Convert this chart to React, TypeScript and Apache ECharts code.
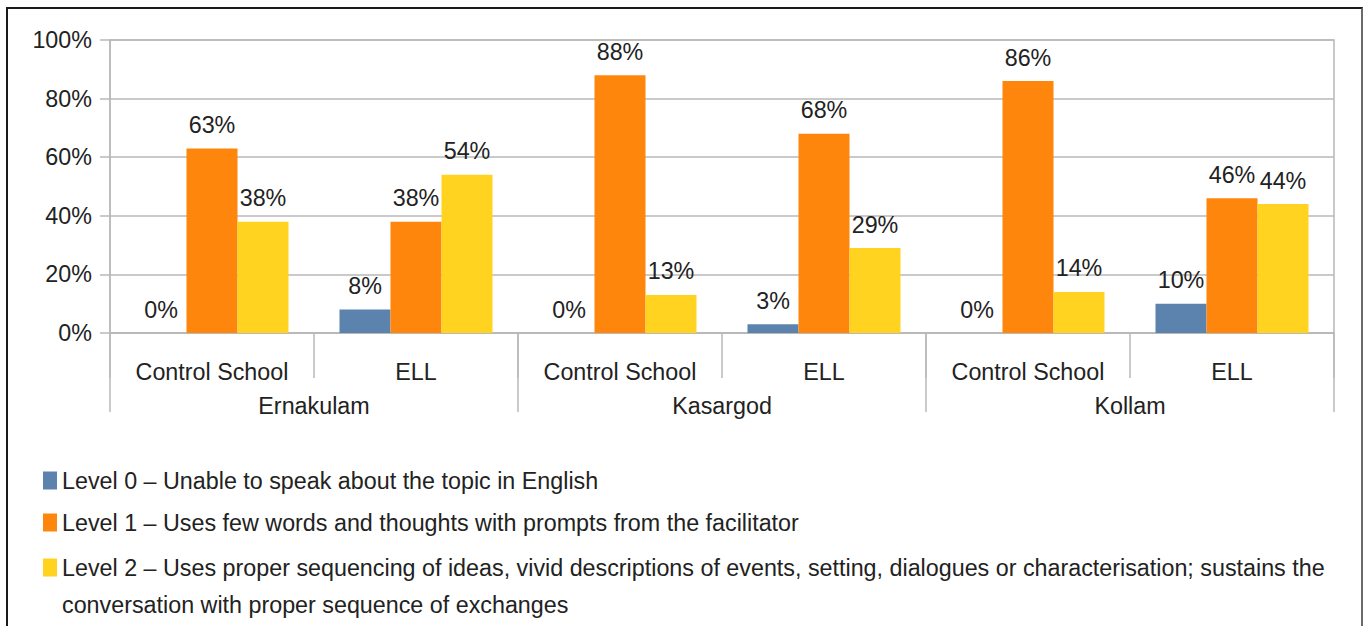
import React, { useEffect, useRef } from "react";
import * as echarts from "echarts";

const subCategories = ["Control School", "ELL", "Control School", "ELL", "Control School", "ELL"];
const districts = ["Ernakulam", "Kasargod", "Kollam"];
const seriesNames = [
  "Level 0 – Unable to speak about the topic in English",
  "Level 1 – Uses few words and thoughts with prompts from the facilitator",
  "Level 2 – Uses proper sequencing of ideas, vivid descriptions of events, setting, dialogues or characterisation; sustains the conversation with proper sequence of exchanges",
];
const level2FirstLine =
  "Level 2 – Uses proper sequencing of ideas, vivid descriptions of events, setting, dialogues or characterisation; sustains the";
const level2SecondLine = "conversation with proper sequence of exchanges";
const level0 = [0, 8, 0, 3, 0, 10];
const level1 = [63, 38, 88, 68, 86, 46];
const level2 = [38, 54, 13, 29, 14, 44];
const yTicks = [0, 20, 40, 60, 80, 100];

const FONT = "'Liberation Sans', Arial, sans-serif";
const FS = 23.3;
const TEXT = "#222222";
const GRID = "#b8b8b8";
const COLORS = ["#5b83ae", "#ff860d", "#ffd320"];

export default function App() {
  const ref = useRef<HTMLDivElement>(null);
  useEffect(() => {
    if (!ref.current) return;
    const chart = echarts.init(ref.current, null, { renderer: "svg" });
    const label = {
      show: true,
      position: "top",
      distance: 12,
      fontFamily: FONT,
      fontSize: FS,
      color: TEXT,
      formatter: (p: any) => `${p.value}%`,
    };
    const mk = (i: number, data: number[]) => ({
      name: seriesNames[i],
      type: "bar",
      xAxisIndex: 0,
      data,
      barGap: "0%",
      barCategoryGap: "25%",
      itemStyle: { color: COLORS[i] },
      label,
    });
    chart.setOption({
      animation: false,
      textStyle: { fontFamily: FONT },
      grid: {
        left: 110,
        right: 31,
        top: 40,
        bottom: 626 - 333,
        show: true,
        borderColor: GRID,
        borderWidth: 1.5,
        backgroundColor: "transparent",
      },
      legend: [
        {
          orient: "vertical",
          left: 43,
          top: 462,
          padding: 0,
          itemGap: 5,
          itemWidth: 14,
          itemHeight: 18,
          icon: "rect",
          selectedMode: false,
          data: [seriesNames[0], seriesNames[1]],
          textStyle: { fontFamily: FONT, fontSize: FS, color: TEXT, lineHeight: 37 },
        },
        {
          orient: "vertical",
          left: 43,
          top: 512,
          padding: 0,
          itemWidth: 14,
          itemHeight: 18,
          icon: "rect",
          selectedMode: false,
          data: [seriesNames[2]],
          formatter: () => `{a|}\n{a|${level2FirstLine}}\n{a|${level2SecondLine}}`,
          textStyle: {
            fontFamily: FONT,
            fontSize: FS,
            color: TEXT,
            lineHeight: 37,
            rich: { a: { fontFamily: FONT, fontSize: FS, color: TEXT, lineHeight: 37 } },
          },
        },
      ],
      xAxis: [
        {
          type: "category",
          data: subCategories,
          position: "bottom",
          axisLine: { show: true, lineStyle: { color: GRID, width: 1.5 } },
          axisTick: { show: true, length: 45, alignWithLabel: false, lineStyle: { color: GRID, width: 1.5 } },
          axisLabel: { fontFamily: FONT, fontSize: FS, color: TEXT, margin: 27, interval: 0 },
          splitLine: { show: false },
        },
        {
          type: "category",
          data: districts,
          position: "bottom",
          axisLine: { show: false },
          axisTick: { show: true, length: 79, alignWithLabel: false, lineStyle: { color: GRID, width: 1.5 } },
          axisLabel: { fontFamily: FONT, fontSize: FS, color: TEXT, margin: 61, interval: 0 },
          splitLine: { show: false },
        },
      ],
      yAxis: {
        type: "value",
        min: yTicks[0],
        max: yTicks[yTicks.length - 1],
        interval: 20,
        axisLine: { show: true, lineStyle: { color: GRID, width: 1.5 } },
        axisTick: { show: true, length: 10, lineStyle: { color: GRID, width: 1.5 } },
        axisLabel: { fontFamily: FONT, fontSize: FS, color: TEXT, margin: 18, formatter: "{value}%" },
        splitLine: { show: true, lineStyle: { color: GRID, width: 1.5 } },
      },
      series: [mk(0, level0), mk(1, level1), mk(2, level2)],
    });
    return () => chart.dispose();
  }, []);
  return (
    <div style={{ position: "absolute", left: 0, top: 0, width: 1365, height: 626, background: "#fff", overflow: "hidden" }}>
      <div
        style={{
          position: "absolute",
          left: 6,
          top: 7,
          width: 1357,
          height: 660,
          boxSizing: "border-box",
          borderLeft: "2px solid #1a1a1a",
          borderTop: "2px solid #1a1a1a",
          borderRight: "2px solid #6a6a6a",
        }}
      />
      <div ref={ref} style={{ position: "absolute", left: 0, top: 0, width: 1365, height: 626 }} />
    </div>
  );
}
